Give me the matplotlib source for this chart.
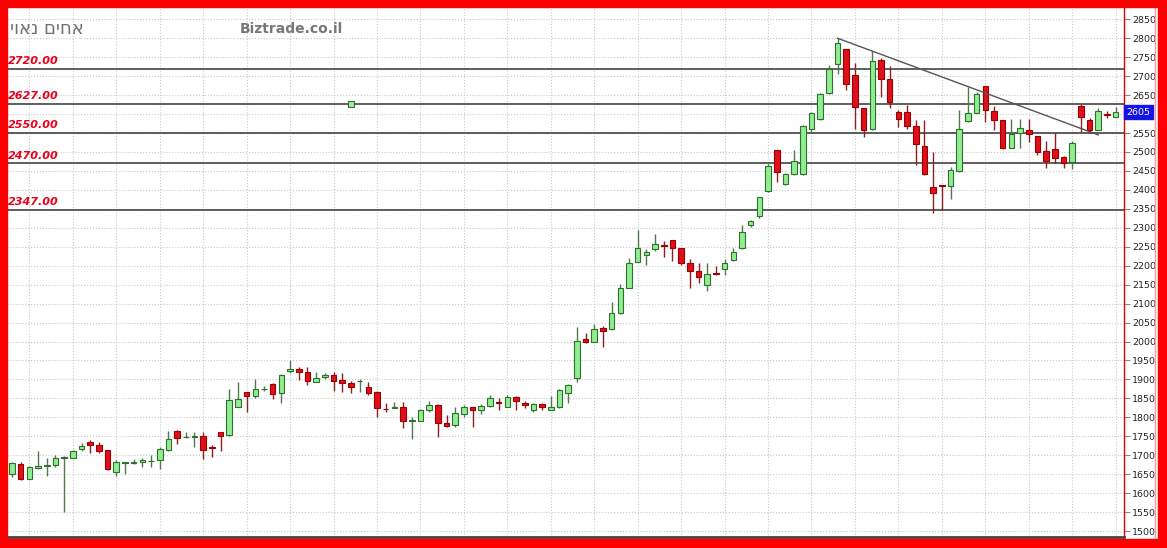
import matplotlib
matplotlib.use("Agg")
import matplotlib.pyplot as plt
from matplotlib.patches import Rectangle
from matplotlib.lines import Line2D

W, H = 1167, 548

# daily candles
opens = [1650, 1678, 1638, 1665, 1672, 1673, 1693, 1694, 1716, 1734,
         1728, 1713, 1657, 1680, 1680, 1682, 1684, 1687, 1714, 1764,
         1749, 1748, 1751, 1722, 1760, 1754, 1828, 1866, 1856, 1874,
         1887, 1863, 1921, 1927, 1920, 1894, 1906, 1912, 1898, 1891,
         1895, 1879, 1868, 1823, 1825, 1826, 1790, 1790, 1818, 1833,
         1784, 1780, 1808, 1826, 1818, 1831, 1841, 1828, 1853, 1839,
         1818, 1834, 1819, 1826, 1865, 1903, 2006, 2000, 2035, 2032,
         2074, 2142, 2211, 2227, 2244, 2254, 2268, 2246, 2206, 2187,
         2149, 2181, 2190, 2215, 2246, 2307, 2331, 2398, 2505, 2416,
         2441, 2442, 2560, 2586, 2655, 2731, 2772, 2703, 2617, 2560,
         2743, 2692, 2606, 2606, 2569, 2516, 2407, 2413, 2409, 2450,
         2582, 2604, 2674, 2609, 2583, 2511, 2549, 2558, 2543, 2503,
         2509, 2486, 2473, 2620, 2583, 2558, 2600, 2591]
highs = [1683, 1681, 1672, 1710, 1692, 1701, 1698, 1714, 1732, 1739,
         1734, 1715, 1688, 1683, 1689, 1692, 1701, 1723, 1765, 1766,
         1762, 1762, 1760, 1728, 1762, 1874, 1894, 1868, 1900, 1883,
         1890, 1914, 1951, 1934, 1934, 1919, 1918, 1919, 1918, 1897,
         1900, 1892, 1870, 1837, 1840, 1840, 1802, 1821, 1843, 1835,
         1806, 1828, 1833, 1828, 1835, 1859, 1852, 1859, 1857, 1844,
         1837, 1837, 1855, 1874, 1888, 2039, 2023, 2045, 2041, 2103,
         2151, 2220, 2294, 2243, 2283, 2266, 2268, 2247, 2218, 2208,
         2208, 2199, 2217, 2246, 2307, 2321, 2382, 2474, 2506, 2444,
         2505, 2571, 2606, 2655, 2730, 2800, 2772, 2734, 2617, 2767,
         2747, 2728, 2611, 2624, 2584, 2584, 2501, 2414, 2461, 2611,
         2672, 2657, 2674, 2620, 2583, 2586, 2587, 2587, 2543, 2529,
         2551, 2490, 2529, 2626, 2589, 2615, 2608, 2618]
lows = [1642, 1635, 1636, 1663, 1644, 1670, 1550, 1692, 1710, 1705,
        1705, 1661, 1645, 1651, 1677, 1668, 1668, 1663, 1712, 1730,
        1745, 1721, 1689, 1695, 1712, 1752, 1826, 1813, 1850, 1870,
        1848, 1837, 1916, 1899, 1884, 1894, 1901, 1870, 1866, 1863,
        1868, 1859, 1802, 1815, 1824, 1771, 1742, 1789, 1815, 1749,
        1774, 1774, 1802, 1775, 1809, 1828, 1818, 1826, 1818, 1824,
        1815, 1818, 1818, 1824, 1837, 1894, 1996, 1999, 1986, 2030,
        2073, 2140, 2210, 2202, 2239, 2222, 2213, 2202, 2140, 2154,
        2133, 2175, 2175, 2213, 2244, 2301, 2325, 2395, 2422, 2413,
        2439, 2440, 2549, 2584, 2653, 2705, 2664, 2561, 2540, 2558,
        2646, 2615, 2565, 2561, 2466, 2438, 2340, 2347, 2375, 2448,
        2580, 2602, 2580, 2558, 2508, 2510, 2511, 2527, 2492, 2457,
        2472, 2457, 2454, 2552, 2551, 2558, 2589, 2591]
closes = [1679, 1638, 1668, 1672, 1674, 1692, 1695, 1710, 1725, 1728,
          1712, 1663, 1681, 1682, 1681, 1688, 1685, 1716, 1743, 1746,
          1749, 1750, 1714, 1720, 1751, 1846, 1848, 1857, 1874, 1876,
          1862, 1912, 1927, 1920, 1897, 1905, 1912, 1897, 1890, 1879,
          1897, 1865, 1824, 1821, 1826, 1790, 1792, 1818, 1833, 1786,
          1777, 1812, 1826, 1818, 1830, 1850, 1839, 1853, 1844, 1833,
          1834, 1828, 1826, 1872, 1885, 2001, 1999, 2032, 2029, 2074,
          2140, 2206, 2246, 2237, 2256, 2252, 2246, 2206, 2187, 2169,
          2178, 2179, 2206, 2235, 2288, 2318, 2380, 2463, 2446, 2442,
          2477, 2569, 2604, 2653, 2719, 2787, 2679, 2618, 2558, 2741,
          2692, 2633, 2586, 2569, 2520, 2441, 2391, 2409, 2453, 2561,
          2602, 2652, 2611, 2583, 2510, 2547, 2562, 2548, 2501, 2475,
          2483, 2472, 2523, 2591, 2558, 2609, 2598, 2605]

levels = [2720, 2627, 2550, 2470, 2347]
trend_idx = [95, 125]
trend_val = [2800, 2545]
marker_idx = 39
marker_val = 2627

title_he = "אחים נאוי"
site_name = "Biztrade.co.il"
y_ticks = list(range(1500, 2851, 50))
grid_x = list(range(2, 128, 5))

fig = plt.figure(figsize=(W / 100, H / 100), dpi=100, facecolor="white")
ax = fig.add_axes([7 / W, 11 / H, 1117 / W, 530 / H])

# candles
for i, (o, h, l, c) in enumerate(zip(opens, highs, lows, closes)):
    up = c >= o
    wick = "#4f7a4f" if up else "#8b2020"
    face = "#90ee90" if up else "#e0101a"
    edge = "#2f6f2f" if up else "#9a0000"
    ax.vlines(i, l, h, color=wick, lw=1, zorder=3)
    ax.bar(i, abs(c - o), bottom=min(o, c), width=0.64, color=face,
           edgecolor=edge, linewidth=0.8, zorder=4)

for lv in levels:
    ax.axhline(lv, color="#333333", lw=1.1, zorder=2)
    ax.annotate(f"{lv:.2f}", xy=(0, lv), xycoords=ax.get_yaxis_transform(),
                xytext=(1, 2), textcoords="offset points", ha="left", va="bottom",
                color="#e8001c", fontsize=8, fontweight="bold", fontstyle="italic",
                zorder=6)

ax.plot(trend_idx, trend_val, color="#555555", lw=1, zorder=5)
ax.plot([marker_idx], [marker_val], marker="s", ms=4.5, mfc="#a8e8a8",
        mec="#2f6f2f", mew=0.8, zorder=6)

ax.set_xlim(-0.575, 127.96)
ax.set_ylim(1484.3, 2882.4)
ax.set_yticks(y_ticks)
# the last-price box sits over the nearest scale label
last_tick = min(y_ticks, key=lambda t: abs(t - closes[-1]))
ax.set_yticklabels(["" if t == last_tick else str(t) for t in y_ticks])
ax.set_xticks(grid_x)
ax.set_xticklabels([])
ax.yaxis.tick_right()
ax.tick_params(axis="y", labelsize=6.8, labelcolor="#222222", color="#888888",
               length=4, pad=2)
ax.tick_params(axis="x", length=0)
ax.grid(True, color="#c8c8c8", ls=":", lw=0.8, zorder=0)

for s in ["top", "left"]:
    ax.spines[s].set_visible(False)
ax.spines["right"].set_color("#e00000")
ax.spines["right"].set_linewidth(1)
ax.spines["bottom"].set_color("#444444")
ax.spines["bottom"].set_linewidth(2)

# last price box on the scale
ax.text(1.002, closes[-1], f"{closes[-1]}", transform=ax.get_yaxis_transform(),
        ha="left", va="center", color="white", fontsize=6.8,
        bbox=dict(boxstyle="square,pad=0.25", fc="#1414e6", ec="#1414e6"),
        clip_on=False, zorder=10)

fig.text(10 / W, 1 - 29 / H, title_he[::-1], ha="left", va="center",
         color="#707070", fontsize=13)
fig.text(240 / W, 1 - 29 / H, site_name, ha="left", va="center",
         color="#777777", fontsize=10, fontweight="bold")

# red frame round the chart
red = "#ff0000"
fig.add_artist(Rectangle((0, 1 - 7 / H), 1, 7 / H, transform=fig.transFigure,
                         color=red, zorder=20))
fig.add_artist(Rectangle((0, 0), 7 / W, 1, transform=fig.transFigure,
                         color=red, zorder=20))
fig.add_artist(Rectangle((1158 / W, 0), 9 / W, 1, transform=fig.transFigure,
                         color=red, zorder=20))
fig.add_artist(Rectangle((0, 0), 1, 9 / H, transform=fig.transFigure,
                         color=red, zorder=20))
fig.add_artist(Line2D([1155 / W, 1155 / W], [9 / H, 1 - 7 / H],
                      transform=fig.transFigure, color="#f4a0a0", lw=1, zorder=19))

fig.savefig("out.png", dpi=100, facecolor="white")
plt.close(fig)
